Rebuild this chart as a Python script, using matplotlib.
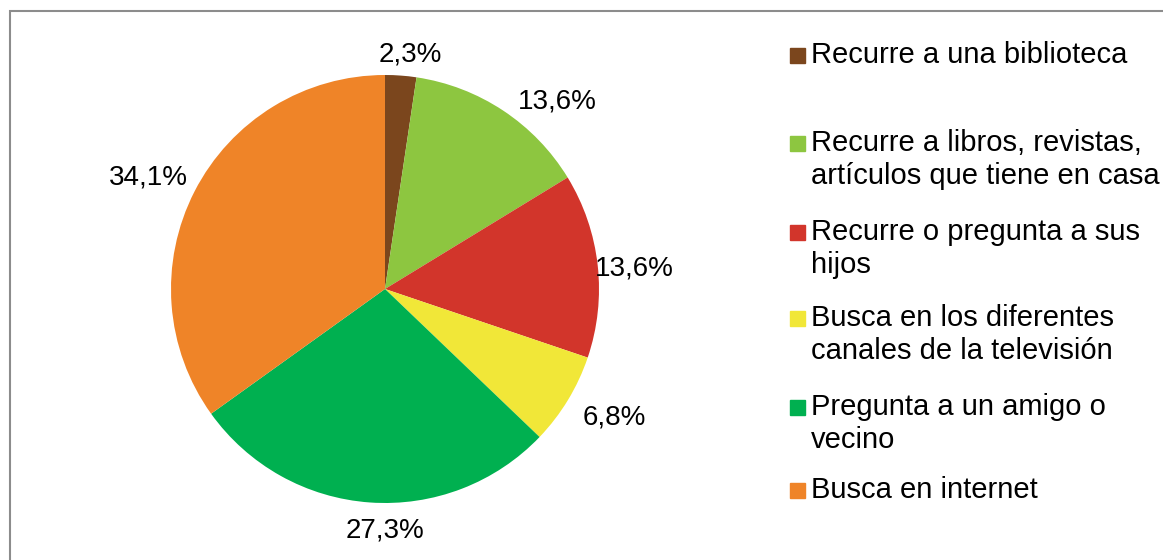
import matplotlib
matplotlib.use('Agg')
import matplotlib.pyplot as plt
from matplotlib.patches import Rectangle
import numpy as np

plt.rcParams['font.family'] = ['Liberation Sans', 'DejaVu Sans']

# data
categorias = ['Recurre a una biblioteca',
              'Recurre a libros, revistas,\nartículos que tiene en casa',
              'Recurre o pregunta a sus\nhijos',
              'Busca en los diferentes\ncanales de la televisión',
              'Pregunta a un amigo o\nvecino',
              'Busca en internet']
valores = [2.3, 13.6, 13.6, 6.8, 27.3, 34.1]
etiquetas = ['2,3%', '13,6%', '13,6%', '6,8%', '27,3%', '34,1%']
colores = ['#7B461D', '#8DC640', '#D2352B', '#F1E738', '#00B050', '#EF8428']

W, H = 1163, 560
fig = plt.figure(figsize=(W / 100, H / 100), dpi=100)

# pie area: centre (385, 289) px, radius 214 px
cx, cy, r = 385, 289, 214
ax = fig.add_axes([(cx - r) / W, (H - cy - r) / H, 2 * r / W, 2 * r / H])
wedges, _ = ax.pie(valores, colors=colores, startangle=90, counterclock=False,
                   radius=1.0, wedgeprops=dict(linewidth=0))
ax.set_xlim(-1, 1)
ax.set_ylim(-1, 1)
ax.set_aspect('equal')
ax.axis('off')

# label distances (relative to radius) and angle offsets, like excel best fit
dist = [1.10, 1.19, 1.17, 1.23, 1.13, 1.22]
desv = [-1.9, -9, -1.6, 1.9, 4, 2]
for w, txt, d, o in zip(wedges, etiquetas, dist, desv):
    ang = np.deg2rad((w.theta1 + w.theta2) / 2 + o)
    ax.text(d * np.cos(ang), d * np.sin(ang), txt, ha='center', va='center',
            fontsize=20, clip_on=False)

# legend, drawn by hand
ley_y = [55, 143, 232, 318, 407, 490]
for lab, col, y in zip(categorias, colores, ley_y):
    fig.patches.append(Rectangle((790 / W, 1 - (y + 8) / H), 15 / W, 15 / H,
                                 transform=fig.transFigure, color=col))
    for k, linea in enumerate(lab.split('\n')):
        fig.text(811 / W, 1 - (y + 33 * k) / H, linea, fontsize=21,
                 ha='left', va='center')

# chart border
fig.patches.append(Rectangle((10 / W, -0.1), 1.2, 1 - 11 / H + 0.1,
                             transform=fig.transFigure, fill=False,
                             edgecolor='#8C8C8C', linewidth=1.5))

fig.savefig('out.png', dpi=100)
